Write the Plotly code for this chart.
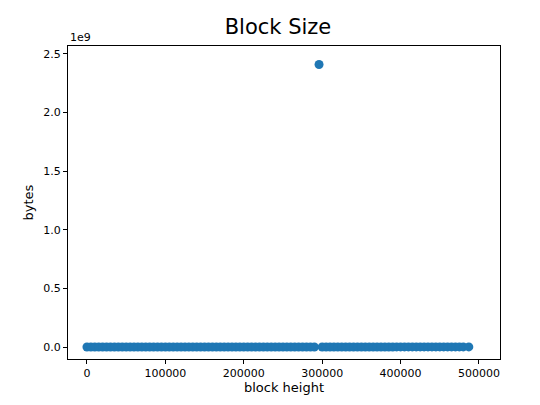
import plotly.graph_objects as go

heights = [0, 5000, 10000, 15000, 20000, 25000, 30000, 35000, 40000, 45000,
           50000, 55000, 60000, 65000, 70000, 75000, 80000, 85000, 90000, 95000,
           100000, 105000, 110000, 115000, 120000, 125000, 130000, 135000, 140000, 145000,
           150000, 155000, 160000, 165000, 170000, 175000, 180000, 185000, 190000, 195000,
           200000, 205000, 210000, 215000, 220000, 225000, 230000, 235000, 240000, 245000,
           250000, 255000, 260000, 265000, 270000, 275000, 280000, 285000, 290000, 296000,
           300000, 305000, 310000, 315000, 320000, 325000, 330000, 335000, 340000, 345000,
           350000, 355000, 360000, 365000, 370000, 375000, 380000, 385000, 390000, 395000,
           400000, 405000, 410000, 415000, 420000, 425000, 430000, 435000, 440000, 445000,
           450000, 455000, 460000, 465000, 470000, 475000, 480000, 487000]
sizes_bytes = [285, 220, 215, 300, 500, 800, 1200, 1800, 2500, 5000,
               8000, 8500, 9000, 10000, 12000, 13000, 15000, 18000, 20000, 22000,
               25000, 27000, 30000, 32000, 35000, 38000, 40000, 50000, 60000, 70000,
               80000, 90000, 100000, 105000, 110000, 120000, 130000, 140000, 150000, 155000,
               160000, 165000, 170000, 185000, 200000, 225000, 250000, 275000, 300000, 310000,
               320000, 335000, 350000, 375000, 400000, 410000, 420000, 435000, 450000, 2410000000,
               400000, 425000, 450000, 475000, 500000, 525000, 550000, 575000, 600000, 625000,
               650000, 675000, 700000, 725000, 750000, 775000, 800000, 800000, 800000, 850000,
               900000, 925000, 950000, 950000, 950000, 965000, 980000, 985000, 990000, 990000,
               990000, 992000, 995000, 996000, 998000, 998000, 999000, 1000000]

fig = go.Figure(go.Scatter(x=heights, y=sizes_bytes, mode="markers",
                           marker=dict(color="#1f77b4", size=9)))
ax = dict(showgrid=False, zeroline=False, showline=True, mirror=True, linecolor="black",
          linewidth=1, ticks="outside", ticklen=4, tickcolor="black")
fig.update_layout(
    width=540, height=405, plot_bgcolor="white", paper_bgcolor="white",
    font=dict(family="DejaVu Sans", size=11, color="black"),
    margin=dict(l=60, r=48, t=38, b=54, autoexpand=False), showlegend=False,
    title=dict(text="Block Size", x=0.5, xanchor="center", y=0.955, yanchor="middle",
               font=dict(size=21)),
    xaxis=dict(**ax, range=[-24200, 526800], tickvals=[0, 100000, 200000, 300000, 400000, 500000],
               ticktext=["0", "100000", "200000", "300000", "400000", "500000"],
               title=dict(text="block height", standoff=2)),
    yaxis=dict(**ax, range=[-0.102e9, 2.568e9], tickvals=[0, 0.5e9, 1e9, 1.5e9, 2e9, 2.5e9],
               ticktext=["0.0", "0.5", "1.0", "1.5", "2.0", "2.5"],
               title=dict(text="bytes", standoff=6)),
    annotations=[dict(text="1e9", xref="paper", yref="paper", x=0, y=1, xanchor="left",
                      yanchor="bottom", showarrow=False, font=dict(size=11))],
)
fig.write_html("out.html")
